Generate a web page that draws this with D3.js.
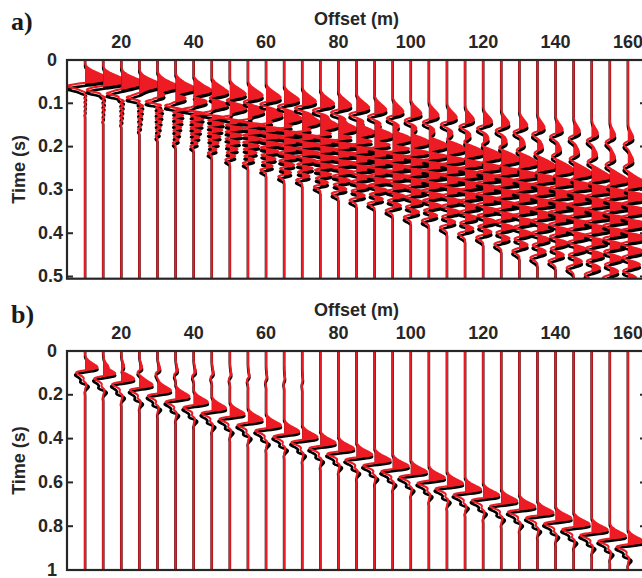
<!DOCTYPE html>
<html><head><meta charset="utf-8">
<script src="https://cdn.jsdelivr.net/npm/d3@7"></script>
<style>
html,body{margin:0;padding:0;background:#fff;}
svg{display:block;}
.lbl{font-family:"Liberation Sans",Arial,sans-serif;font-weight:bold;fill:#262626;}
.pan{font-family:"Liberation Serif","Times New Roman",serif;font-weight:bold;fill:#1a1a1a;}
</style></head><body>
<svg id="chart" width="642" height="578"></svg>
<script>
// ---------------- data ----------------
const offsets = [10,15,20,25,30,35,40,45,50,55,60,65,70,75,80,85,90,95,100,105,110,115,120,125,130,135,140,145,150,155,160];
const xTicks = [20,40,60,80,100,120,140,160];
const yTicksA = [0,0.1,0.2,0.3,0.4,0.5];
const yTicksB = [0,0.2,0.4,0.6,0.8,1];

// panel a: picked arrival times (s, peak of lobe) and amplitudes (in trace spacings)
const aFirstTime = [0.042,0.047,0.051,0.056,0.060,0.065,0.070,0.074,0.079,0.083,0.088,0.093,0.097,0.102,0.106,0.111,0.116,0.120,0.125,0.129,0.134,0.139,0.143,0.148,0.152,0.157,0.162,0.166,0.171,0.175,0.180];
const aFirstAmp  = [0.45,0.55,0.65,0.75,0.8,0.85,0.85,0.85,0.85,0.8,0.8,0.8,0.75,0.75,0.7,0.7,0.65,0.6,0.6,0.55,0.55,0.5,0.5,0.45,0.45,0.4,0.4,0.35,0.35,0.3,0.3];
const aMidTime   = [0.044,0.050,0.057,0.063,0.069,0.076,0.082,0.088,0.094,0.101,0.107,0.113,0.120,0.126,0.132,0.139,0.145,0.151,0.157,0.164,0.170,0.176,0.183,0.189,0.195,0.202,0.208,0.214,0.220,0.227,0.233];
const aMidAmp    = [0,0,0,0,0,0,0,0,0.05,0.1,0.1,0.15,0.15,0.2,0.2,0.25,0.25,0.3,0.3,0.3,0.3,0.3,0.3,0.3,0.3,0.3,0.3,0.3,0.3,0.3,0.3];
const aMainTime  = [0.046,0.054,0.062,0.070,0.078,0.086,0.094,0.102,0.110,0.118,0.126,0.134,0.142,0.150,0.158,0.166,0.174,0.182,0.190,0.198,0.206,0.214,0.222,0.230,0.238,0.246,0.254,0.262,0.270,0.278,0.286];
const aMainAmp   = [0.9,0.9,0.9,0.9,0.9,0.9,0.9,0.95,0.95,0.95,0.95,1.0,1.0,1.0,1.0,1.0,1.0,1.0,1.0,1.0,1.0,1.0,1.0,1.0,1.0,1.0,1.0,1.0,1.0,1.0,1.0];
const aTrainSpacing = [0.010,0.011,0.011,0.012,0.013,0.014,0.014,0.015,0.016,0.016,0.017,0.018,0.018,0.019,0.020,0.021,0.021,0.022,0.023,0.023,0.024,0.025,0.025,0.026,0.027,0.028,0.028,0.029,0.030,0.030,0.031];
const aTrainAmp  = [0.06,0.1,0.15,0.22,0.32,0.45,0.58,0.7,0.8,0.9,1.0,1.05,1.1,1.15,1.2,1.25,1.25,1.25,1.25,1.25,1.25,1.25,1.25,1.25,1.25,1.25,1.25,1.25,1.25,1.25,1.25];
const aTrainDecay = [1.0,1.0,0.95,0.85,0.7,0.55,0.4];
const waveA = [0,0.05,0.12,0.22,0.35,0.5,0.66,0.82,0.95,1.0,0.7,0.0,-0.6,-0.85,-0.6,-0.3,-0.1,0];

// panel b
const bMainTime = [0.078,0.105,0.131,0.158,0.184,0.211,0.237,0.264,0.290,0.317,0.343,0.370,0.396,0.423,0.449,0.476,0.502,0.529,0.555,0.582,0.608,0.635,0.661,0.688,0.714,0.741,0.767,0.794,0.820,0.847,0.873];
const bMainAmp  = [0.7,0.7,0.72,0.74,0.76,0.78,0.8,0.8,0.82,0.82,0.84,0.84,0.86,0.86,0.88,0.88,0.9,0.9,0.9,0.9,0.9,0.9,0.9,0.9,0.9,0.9,0.9,0.9,0.9,0.9,0.9];
const bPreTime  = [0.060,0.066,0.072,0.078,0.084,0.090,0.096,0.102,0.108,0.114,0.120,0.126,0.132,0.138,0.144,0.150,0.156,0.162,0.168,0.174,0.180,0.186,0.192,0.198,0.204,0.210,0.216,0.222,0.228,0.234,0.240];
const bPreAmp   = [0,0.12,0.15,0.15,0.15,0.12,0.12,0.1,0.08,0.08,0.06,0.05,0.04,0,0,0,0,0,0,0,0,0,0,0,0,0,0,0,0,0,0];
const bTailDelay = 0.055;
const bTailAmp = {red: -0.12, black: -0.3};
const waveB = [0,0.03,0.07,0.12,0.19,0.28,0.38,0.5,0.63,0.77,0.9,0.98,1.0,0.6,0.0,-0.5,-0.7,-0.6,-0.4,-0.2,-0.05,0.05,0.05,0.02,0];

// ---------------- drawing ----------------
const svg = d3.select("#chart");
const x = d3.scaleLinear().domain([5,165]).range([67,646]);
const sp = x(15) - x(10);
const RED = "#ed1c24", BLK = "#000";

function makeWave(shape, peakIndex){
  const f = d3.interpolateBasis(shape);
  const pf = peakIndex/(shape.length-1);
  return (t, t0, dur) => { const u = (t - (t0 - pf*dur))/dur; return (u<=0||u>=1)?0:f(u); };
}

function panel(cfg){
  const y = d3.scaleLinear().domain(cfg.ydom).range(cfg.yr);
  const g = svg.append("g");
  const id = "clip"+cfg.name;
  svg.append("defs").append("clipPath").attr("id",id)
    .append("rect").attr("x",x.range()[0]).attr("y",cfg.yr[0]).attr("width",x.range()[1]-x.range()[0]).attr("height",cfg.yr[1]-cfg.yr[0]);
  const tg = g.append("g").attr("clip-path",`url(#${id})`);
  const ts = d3.range(0, cfg.ydom[1]+cfg.dt/2, cfg.dt);
  offsets.forEach((off,i)=>{
    ["black","red"].forEach(kind=>{
      const evs = cfg.events(i, kind);
      const lag = kind==="black"?cfg.lag:0;
      const vals = ts.map(t=>{ let v=0; evs.forEach(e=>{ v += e.a*e.w(t-lag, e.t, e.d); }); return {t, v}; });
      const x0 = x(off);
      const col = kind==="black"?BLK:RED;
      tg.append("path").datum(vals)
        .attr("d", d3.area().y(d=>y(d.t)).x0(x0).x1(d=>x0+Math.max(0,d.v)*sp))
        .attr("fill", col).attr("stroke","none");
      tg.append("path").datum(vals)
        .attr("d", d3.line().y(d=>y(d.t)).x(d=>x0+d.v*sp))
        .attr("fill","none").attr("stroke",col).attr("stroke-width", kind==="black"?2.6:2.1)
        .attr("stroke-linejoin","round");
    });
  });
  const [xl,xr] = x.range(), [yt,yb] = cfg.yr;
  g.append("rect").attr("x",xl).attr("y",yt).attr("width",xr-xl).attr("height",yb-yt)
    .attr("fill","none").attr("stroke","#262626").attr("stroke-width",2.2);
  cfg.yticks.forEach(v=>{
    g.append("line").attr("x1",xl).attr("x2",xl+6).attr("y1",y(v)).attr("y2",y(v)).attr("stroke","#262626").attr("stroke-width",2);
    g.append("line").attr("x1",xr).attr("x2",xr-6).attr("y1",y(v)).attr("y2",y(v)).attr("stroke","#262626").attr("stroke-width",2);
    g.append("text").attr("class","lbl").attr("x", Number.isInteger(v)?57:63).attr("y",y(v)+5.5)
      .attr("text-anchor","end").attr("font-size",18).text(v);
  });
  xTicks.forEach(v=>{
    g.append("text").attr("class","lbl").attr("x",x(v)).attr("y",cfg.xlabY)
      .attr("text-anchor","middle").attr("font-size",18).text(v);
  });
  g.append("text").attr("class","lbl").attr("x",(xl+xr)/2).attr("y",cfg.titleY)
    .attr("text-anchor","middle").attr("font-size",18).text("Offset (m)");
  g.append("text").attr("class","lbl").attr("transform",`translate(25,${(yt+yb)/2}) rotate(-90)`)
    .attr("text-anchor","middle").attr("font-size",18).text("Time (s)");
  g.append("text").attr("class","pan").attr("x",11).attr("y",cfg.panY).attr("font-size",26).text(cfg.name+")");
}

const wA = makeWave(waveA, 9);
const durA = 0.065, trainDurRatio = 2.2;
panel({
  name:"a", ydom:[0,0.505], yr:[60,278.7], dt:0.001, lag:0.007,
  yticks:yTicksA, xlabY:48, titleY:25, panY:30,
  events:(i,kind)=>{
    const ev = [
      {t:aFirstTime[i], a:aFirstAmp[i], w:wA, d:durA},
      {t:aMidTime[i], a:aMidAmp[i], w:wA, d:durA},
      {t:aMainTime[i], a:aMainAmp[i], w:wA, d:durA}
    ];
    aTrainDecay.forEach((dk,k)=>ev.push({t:aMainTime[i]+(k+1)*aTrainSpacing[i], a:aTrainAmp[i]*dk, w:wA, d:aTrainSpacing[i]*trainDurRatio}));
    return ev;
  }
});

const wB = makeWave(waveB, 12);
panel({
  name:"b", ydom:[0,1], yr:[351,570], dt:0.002, lag:0.01,
  yticks:yTicksB, xlabY:339, titleY:316, panY:323,
  events:(i,kind)=>[
    {t:bMainTime[i], a:bMainAmp[i], w:wB, d:0.12},
    {t:bPreTime[i], a:bPreAmp[i], w:wB, d:0.12},
    {t:bMainTime[i]+bTailDelay, a:bTailAmp[kind], w:wB, d:0.12}
  ]
});
</script>
</body></html>
